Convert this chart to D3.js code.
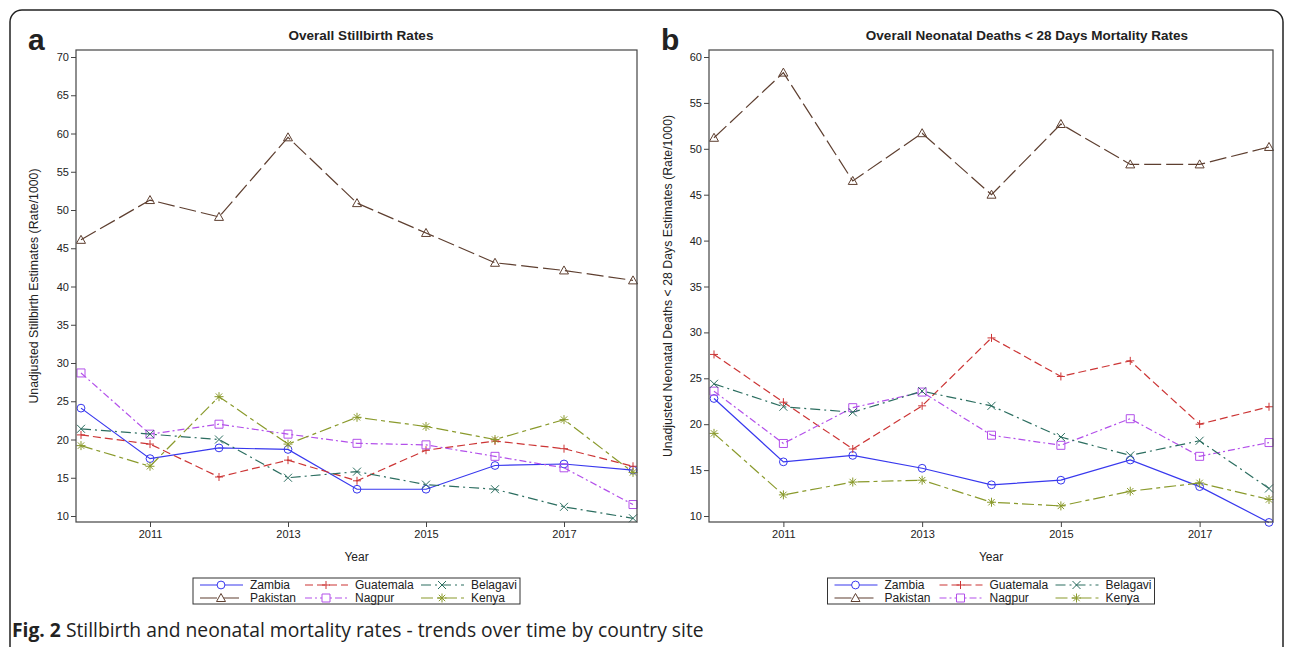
<!DOCTYPE html>
<html>
<head>
<meta charset="utf-8">
<script src="https://cdn.jsdelivr.net/npm/d3@7"></script>
<style>
    body { margin: 0; background: #fff; }
    svg text { font-family: "Liberation Sans", Arial, sans-serif; fill: #222; }
</style>
</head>
<body>
<div class="chart"></div>
<script>

// data
// data

var years = [2010, 2011, 2012, 2013, 2014, 2015, 2016, 2017, 2018];
var xTickYears = [2011, 2013, 2015, 2017];
var sites = ["Zambia", "Pakistan", "Guatemala", "Nagpur", "Belagavi", "Kenya"];

// panel a: stillbirth rate / 1000
var stillZambia    = [24.1, 17.5, 18.9, 18.7, 13.5, 13.5, 16.6, 16.8, 16.0];
var stillPakistan  = [46.1, 51.3, 49.1, 59.5, 50.9, 47.0, 43.1, 42.1, 40.8];
var stillGuatemala = [20.6, 19.4, 15.1, 17.3, 14.6, 18.6, 19.8, 18.8, 16.5];
var stillNagpur    = [28.7, 20.7, 22.0, 20.7, 19.5, 19.3, 17.8, 16.3, 11.5];
var stillBelagavi  = [21.4, 20.7, 20.0, 15.0, 15.8, 14.1, 13.5, 11.2, 9.7];
var stillKenya     = [19.2, 16.5, 25.6, 19.4, 22.9, 21.7, 20.0, 22.6, 15.7];

// panel b: neonatal deaths < 28 days rate / 1000
var neoZambia    = [22.8, 15.9, 16.6, 15.2, 13.4, 13.9, 16.1, 13.2, 9.3];
var neoPakistan  = [51.2, 58.3, 46.5, 51.7, 45.0, 52.7, 48.3, 48.3, 50.2];
var neoGuatemala = [27.6, 22.4, 17.3, 22.0, 29.4, 25.2, 26.9, 20.0, 21.9];
var neoNagpur    = [23.6, 17.9, 21.8, 23.5, 18.8, 17.7, 20.6, 16.5, 18.0];
var neoBelagavi  = [24.4, 21.9, 21.3, 23.6, 22.0, 18.6, 16.6, 18.2, 13.0];
var neoKenya     = [19.0, 12.3, 13.7, 13.9, 11.5, 11.1, 12.7, 13.6, 11.8];

var stillTicks = [10, 15, 20, 25, 30, 35, 40, 45, 50, 55, 60, 65, 70];
var neoTicks   = [10, 15, 20, 25, 30, 35, 40, 45, 50, 55, 60];

var siteStyle = {
    Zambia:    { color: "#3838ee", dash: null,         marker: "circle" },
    Pakistan:  { color: "#5e3f30", dash: "17,5",       marker: "triangle" },
    Guatemala: { color: "#cc3535", dash: "8,4",        marker: "plus" },
    Nagpur:    { color: "#b350ea", dash: "7,3,2,3",    marker: "square" },
    Belagavi:  { color: "#2c6e60", dash: "10,4,2,4",   marker: "x" },
    Kenya:     { color: "#8a9a2c", dash: "12,4,4,4",   marker: "star" }
};

var legendOrder = ["Zambia", "Guatemala", "Belagavi", "Pakistan", "Nagpur", "Kenya"];

function markerPath(kind)
{
    var s = 4;
    if(kind == "circle") return d3.symbol().type(d3.symbolCircle).size(48)();
    if(kind == "triangle") return "M0,-4.5L4.5,3.5L-4.5,3.5Z";
    if(kind == "square") return "M-4,-4H4V4H-4Z";
    if(kind == "plus") return "M-" + s + ",0H" + s + "M0,-" + s + "V" + s;
    if(kind == "x") return "M-4,-4L4,4M-4,4L4,-4";
    // asterisk
    return "M-4.5,0H4.5M0,-4.5V4.5M-3.2,-3.2L3.2,3.2M-3.2,3.2L3.2,-3.2";
}

var svg = d3.select(".chart").append("svg")
    .attr("width", 1290)
    .attr("height", 647);

// outer figure frame
svg.append("rect")
    .attr("x", 10).attr("y", 10)
    .attr("width", 1273).attr("height", 660)
    .attr("rx", 12)
    .attr("fill", "none")
    .attr("stroke", "#222")
    .attr("stroke-width", 1.5);

function drawPanel(p)
{
    var x = d3.scaleLinear().domain([2010, 2018]).range([p.x0 + 5, p.x1 - 4]);
    var y = d3.scaleLinear().domain([10, p.yMax]).range([516, 57]);

    var g = svg.append("g");

    g.append("text")
        .attr("x", p.labelX).attr("y", 50)
        .style("font-size", "30px").style("font-weight", "bold")
        .text(p.letter);

    g.append("text")
        .attr("x", p.titleX).attr("y", 40)
        .attr("text-anchor", "middle")
        .style("font-size", "13.5px").style("font-weight", "bold")
        .text(p.title);

    var yAxis = g.append("g")
        .attr("transform", "translate(" + p.x0 + ",0)")
        .call(d3.axisLeft(y).tickValues(p.ticks).tickSize(5).tickPadding(2));

    var xAxis = g.append("g")
        .attr("transform", "translate(0,522)")
        .call(d3.axisBottom(x).tickValues(xTickYears).tickFormat(d3.format("d")).tickSize(5).tickPadding(3));

    [yAxis, xAxis].forEach(function(a) {
        a.select(".domain").remove();
        a.selectAll("line").attr("stroke", "#444");
        a.selectAll("text").style("font-size", "11px").attr("fill", "#222")
            .style("font-family", "'Liberation Sans', Arial, sans-serif");
    });

    g.append("text")
        .attr("transform", "translate(" + p.yLabelX + ",286) rotate(-90)")
        .attr("text-anchor", "middle")
        .style("font-size", "12.3px")
        .text(p.yLabel);

    g.append("text")
        .attr("x", (p.x0 + p.x1) / 2).attr("y", 561)
        .attr("text-anchor", "middle")
        .style("font-size", "12px")
        .text("Year");

    var line = d3.line()
        .x(function(d) { return x(d.year); })
        .y(function(d) { return y(d.value); });

    sites.forEach(function(site) {
        var st = siteStyle[site];
        var pts = years.map(function(yr, i) { return { year: yr, value: p.values[site][i] }; });

        g.append("path")
            .datum(pts)
            .attr("d", line)
            .attr("fill", "none")
            .attr("stroke", st.color)
            .attr("stroke-width", 1.2)
            .attr("stroke-dasharray", st.dash);

        g.selectAll(".m-" + site)
            .data(pts)
            .enter().append("path")
            .attr("transform", function(d) { return "translate(" + x(d.year) + "," + y(d.value) + ")"; })
            .attr("d", markerPath(st.marker))
            .attr("fill", "none")
            .attr("stroke", st.color)
            .attr("stroke-width", 1);
    });

    g.append("rect")
        .attr("x", p.x0).attr("y", 50)
        .attr("width", p.x1 - p.x0).attr("height", 472)
        .attr("fill", "none")
        .attr("stroke", "#444")
        .attr("stroke-width", 1.2);

    // legend
    var lw = 327, lx = (p.x0 + p.x1) / 2 - lw / 2;
    var leg = g.append("g").attr("transform", "translate(" + lx + ",578)");
    leg.append("rect")
        .attr("width", lw).attr("height", 26)
        .attr("fill", "none")
        .attr("stroke", "#333")
        .attr("stroke-width", 1);

    var colX = [7, 112, 228];
    legendOrder.forEach(function(site, i) {
        var st = siteStyle[site];
        var cx = colX[i % 3], cy = i < 3 ? 7 : 20;
        leg.append("line")
            .attr("x1", cx).attr("x2", cx + 43)
            .attr("y1", cy).attr("y2", cy)
            .attr("stroke", st.color)
            .attr("stroke-width", 1.2)
            .attr("stroke-dasharray", st.dash);
        leg.append("path")
            .attr("transform", "translate(" + (cx + 21) + "," + cy + ")")
            .attr("d", markerPath(st.marker))
            .attr("fill", "#fff")
            .attr("stroke", st.color);
        leg.append("text")
            .attr("x", cx + 50).attr("y", cy + 4)
            .style("font-size", "12px")
            .text(site);
    });
}

drawPanel({
    letter: "a", labelX: 28, x0: 76, x1: 637, yMax: 70, ticks: stillTicks, yLabelX: 38, titleX: 361,
    title: "Overall Stillbirth Rates",
    yLabel: "Unadjusted Stillbirth Estimates (Rate/1000)",
    values: { Zambia: stillZambia, Pakistan: stillPakistan, Guatemala: stillGuatemala,
              Nagpur: stillNagpur, Belagavi: stillBelagavi, Kenya: stillKenya }
});

drawPanel({
    letter: "b", labelX: 661, x0: 709, x1: 1273, yMax: 60, ticks: neoTicks, yLabelX: 672, titleX: 1027,
    title: "Overall Neonatal Deaths < 28 Days Mortality Rates",
    yLabel: "Unadjusted Neonatal Deaths < 28 Days Estimates (Rate/1000)",
    values: { Zambia: neoZambia, Pakistan: neoPakistan, Guatemala: neoGuatemala,
              Nagpur: neoNagpur, Belagavi: neoBelagavi, Kenya: neoKenya }
});

// caption
var cap = svg.append("text")
    .attr("x", 12).attr("y", 637)
    .style("font-family", "'Open Sans', 'Noto Sans', sans-serif")
    .style("font-size", "19.3px")
    .attr("fill", "#333");
cap.append("tspan").style("font-weight", "bold").text("Fig. 2");
cap.append("tspan").text(" Stillbirth and neonatal mortality rates - trends over time by country site");

</script>
</body>
</html>
